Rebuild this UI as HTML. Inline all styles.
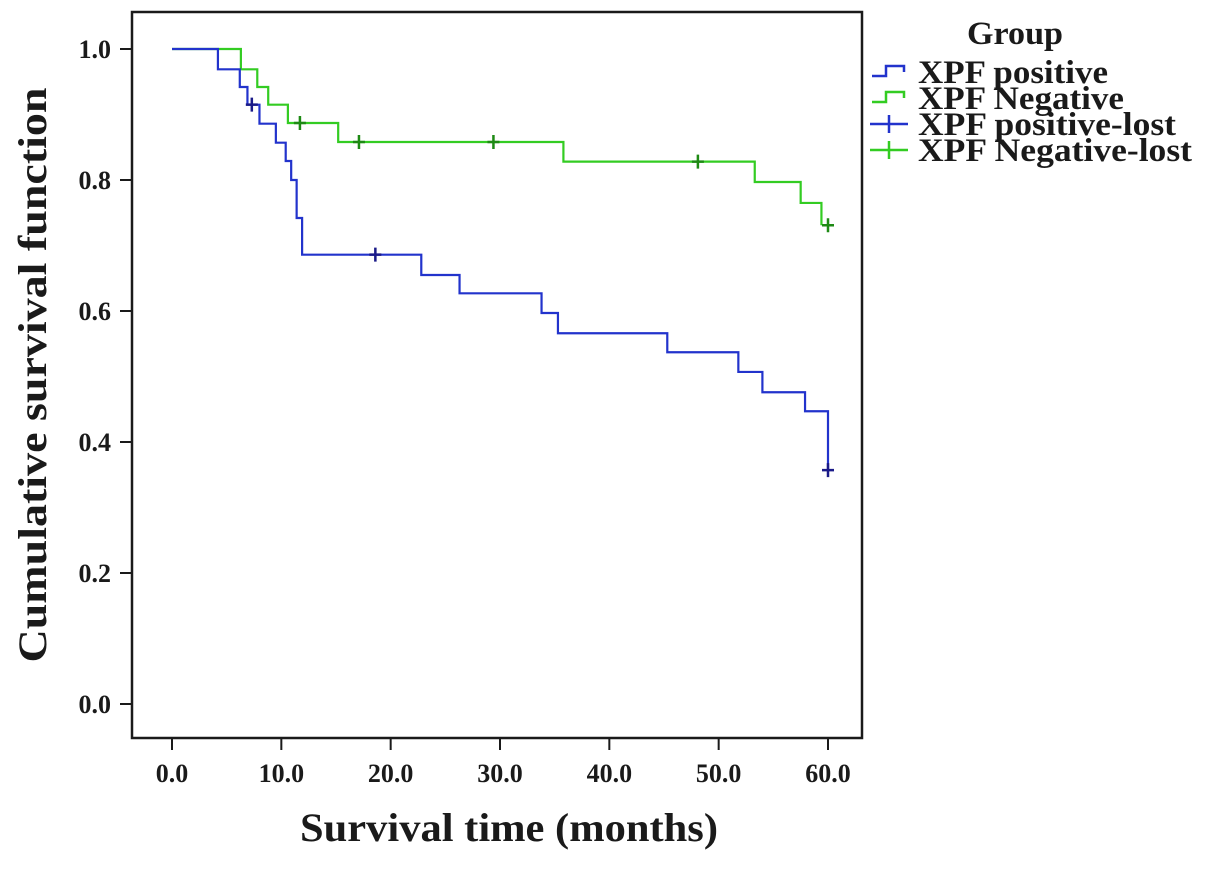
<!DOCTYPE html>
<html><head><meta charset="utf-8"><style>
body{margin:0;background:#fff;width:1205px;height:865px;overflow:hidden}
svg text{font-family:"Liberation Serif",serif;font-weight:bold;fill:#1a1a1a}
</style></head><body>
<svg id="chart" width="1205" height="865" xmlns="http://www.w3.org/2000/svg">
<rect x="132" y="12" width="730" height="726" fill="none" stroke="#1a1a1a" stroke-width="2.5"/>
<g id="axes"></g>
<g id="series"></g>
<text transform="translate(46,375) rotate(-90)" text-anchor="middle" font-size="40" textLength="575" lengthAdjust="spacingAndGlyphs">Cumulative survival function</text>
<text x="509" y="841" text-anchor="middle" font-size="40" textLength="418" lengthAdjust="spacingAndGlyphs">Survival time (months)</text>
<g>
<text x="1015" y="44" text-anchor="middle" font-size="33" textLength="96" lengthAdjust="spacingAndGlyphs">Group</text>
<g><path d="M872 76 H886 V66 H904 V72" fill="none" stroke="#2233cc" stroke-width="2.5"/><text x="918" y="83" font-size="33" textLength="190" lengthAdjust="spacingAndGlyphs">XPF positive</text></g>
<g><path d="M872 102 H886 V92 H904 V98" fill="none" stroke="#33cc22" stroke-width="2.5"/><text x="918" y="109" font-size="33" textLength="206" lengthAdjust="spacingAndGlyphs">XPF Negative</text></g>
<g><path d="M870 124 H908 M889 115 V133" stroke="#2233cc" stroke-width="2.5"/><text x="918" y="135" font-size="33" textLength="258" lengthAdjust="spacingAndGlyphs">XPF positive-lost</text></g>
<g><path d="M870 150 H908 M889 141 V159" stroke="#33cc22" stroke-width="2.5"/><text x="918" y="161" font-size="33" textLength="274" lengthAdjust="spacingAndGlyphs">XPF Negative-lost</text></g>
</g>
</svg>
<script>
const xTicks=[0,10,20,30,40,50,60];
const yTicks=[0,0.2,0.4,0.6,0.8,1.0];
const posTimes=[0,4.2,6.2,6.9,8.0,9.5,10.4,10.9,11.4,11.9,22.8,26.3,33.8,35.3,45.3,51.8,54.0,57.9,60];
const posSurv=[1.0,0.969,0.942,0.915,0.886,0.857,0.829,0.800,0.742,0.686,0.655,0.627,0.597,0.566,0.537,0.507,0.476,0.447,0.357];
const negTimes=[0,6.3,7.8,8.8,10.6,15.2,35.8,53.3,57.5,59.4];
const negSurv=[1.0,0.969,0.942,0.915,0.887,0.858,0.828,0.797,0.765,0.731];
const posCensT=[7.3,18.6,60];
const posCensS=[0.915,0.686,0.357];
const negCensT=[11.7,17.1,29.4,48.1,60];
const negCensS=[0.887,0.858,0.858,0.828,0.731];
const NS='http://www.w3.org/2000/svg';
const xs=t=>172+t*(656/60);
const ys=s=>704-s*655;
const axes=document.getElementById('axes'),series=document.getElementById('series');
function mk(tag,attrs,parent){const e=document.createElementNS(NS,tag);for(const k in attrs)e.setAttribute(k,attrs[k]);parent.appendChild(e);return e;}
xTicks.forEach(v=>{
 const l=mk('line',{x1:xs(v),x2:xs(v),y1:738,y2:750,stroke:'#1a1a1a','stroke-width':2},axes);
 
 
 const t=mk('text',{x:xs(v),y:782,'text-anchor':'middle','font-size':26},axes);t.textContent=v.toFixed(1);
 
 
});
yTicks.forEach(v=>{
 const l=mk('line',{x1:120,x2:132,y1:ys(v),y2:ys(v),stroke:'#1a1a1a','stroke-width':2},axes);
 
 
 const t=mk('text',{x:111,y:ys(v)+9,'text-anchor':'end','font-size':26},axes);t.textContent=v.toFixed(1);
 
 
});
function step(T,S,color,name){
 let d='M'+xs(T[0])+' '+ys(S[0]);
 for(let i=1;i<T.length;i++){d+=' H'+xs(T[i])+' V'+ys(S[i]);}
 const p=mk('path',{d:d,fill:'none',stroke:color,'stroke-width':2.2},series);
 
 
}
function cens(T,S,color,name){
 T.forEach((t,i)=>{
  const x=xs(t),y=ys(S[i]);
  const p=mk('path',{d:`M${x-6} ${y} H${x+6} M${x} ${y-7} V${y+7}`,stroke:color,'stroke-width':2.5},series);
  
  
 });
}
step(negTimes,negSurv,'#33cc22','xpf-negative-curve');
step(posTimes,posSurv,'#2233cc','xpf-positive-curve');
cens(negCensT,negCensS,'#1e8a14','xpf-negative-censor');
cens(posCensT,posCensS,'#1a1a88','xpf-positive-censor');
</script>
</body></html>
